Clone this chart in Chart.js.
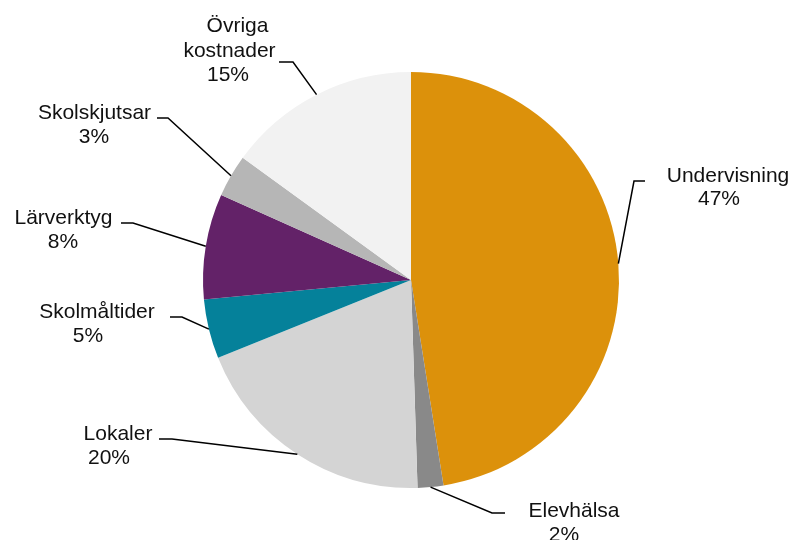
<!DOCTYPE html>
<html>
<head>
<meta charset="utf-8">
<script src="https://cdn.jsdelivr.net/npm/chart.js@4.4.1/dist/chart.umd.min.js"></script>
<style>
  html, body { margin: 0; padding: 0; background: #ffffff; }
  canvas { display: block; }
</style>
</head>
<body>
<canvas id="c" width="792" height="540"></canvas>
<script>
// ---- Data ----
const categories = ["Undervisning", "Elevhälsa", "Lokaler", "Skolmåltider", "Lärverktyg", "Skolskjutsar", "Övriga kostnader"];
const shares = [47.5, 2.0, 19.4, 4.6, 8.2, 3.3, 15.0];
const percentLabels = ["47%", "2%", "20%", "5%", "8%", "3%", "15%"];
const labelLines = [
  ["Undervisning"],
  ["Elevhälsa"],
  ["Lokaler"],
  ["Skolmåltider"],
  ["Lärverktyg"],
  ["Skolskjutsar"],
  ["Övriga", "kostnader"]
];
const colors = ["#DC910B", "#898989", "#D4D4D4", "#05819A", "#632268", "#B6B6B6", "#F2F2F2"];

// ---- Label layout (leader elbows, ends and text line positions) ----
const labelLayout = [
  { elbow: [634, 181], end: [645, 181], xs: [728, 719], ys: [182, 205] },
  { elbow: [492, 513], end: [505, 513], xs: [574, 564], ys: [517, 541] },
  { elbow: [172, 439], end: [159, 439], xs: [118, 109], ys: [440, 464] },
  { elbow: [182, 317], end: [170, 317], xs: [97, 88], ys: [318, 342] },
  { elbow: [133, 223], end: [121, 223], xs: [63.5, 63], ys: [224, 248] },
  { elbow: [168, 118], end: [157, 118], xs: [94.5, 94], ys: [119, 143] },
  { elbow: [293, 62], end: [279, 62], xs: [237.5, 229.5, 228], ys: [32, 57, 81] }
];

const labelPlugin = {
  id: 'leaderLabels',
  afterDatasetsDraw(chart) {
    const ctx = chart.ctx;
    const meta = chart.getDatasetMeta(0);
    ctx.save();
    ctx.strokeStyle = '#000000';
    ctx.lineWidth = 1.5;
    ctx.fillStyle = '#111111';
    ctx.font = '21px "Liberation Sans", Arial, sans-serif';
    ctx.textAlign = 'center';
    ctx.textBaseline = 'alphabetic';
    meta.data.forEach((arc, i) => {
      const p = arc.getProps(['x', 'y', 'startAngle', 'endAngle', 'outerRadius'], true);
      const mid = (p.startAngle + p.endAngle) / 2;
      const sx = p.x + p.outerRadius * Math.cos(mid);
      const sy = p.y + p.outerRadius * Math.sin(mid);
      const L = labelLayout[i];
      ctx.beginPath();
      ctx.moveTo(sx, sy);
      ctx.lineTo(L.elbow[0], L.elbow[1]);
      ctx.lineTo(L.end[0], L.end[1]);
      ctx.stroke();
      const lines = labelLines[i].concat([percentLabels[i]]);
      lines.forEach((t, k) => {
        ctx.fillText(t, L.xs[k], L.ys[k]);
      });
    });
    ctx.restore();
  }
};

new Chart(document.getElementById('c'), {
  type: 'pie',
  data: {
    labels: categories,
    datasets: [{
      data: shares,
      backgroundColor: colors,
      borderWidth: 0,
      hoverOffset: 0
    }]
  },
  options: {
    responsive: false,
    animation: false,
    layout: { padding: { left: 203, right: 173, top: 72, bottom: 52 } },
    plugins: {
      legend: { display: false },
      tooltip: { enabled: false }
    }
  },
  plugins: [labelPlugin]
});
</script>
</body>
</html>
